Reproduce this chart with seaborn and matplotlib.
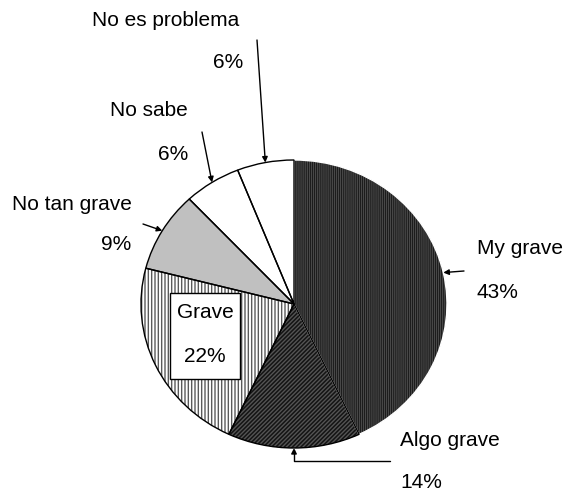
import numpy as np
import matplotlib
matplotlib.use('Agg')
import matplotlib.pyplot as plt
import matplotlib.patches as mpatches
import seaborn as sns

# datos de la encuesta
labels = ['My grave', 'Algo grave', 'Grave', 'No tan grave', 'No sabe', 'No es problema']
values = [43, 14, 22, 9, 6, 6]

# estilo de cada sector
face_colors = ['#0a0a0a', '#141414', '#ffffff', '#c0c0c0', '#ffffff', '#ffffff']
hatch_colors = ['#484848', '#545454', '#5a5a5a', '#c0c0c0', '#ffffff', '#ffffff']
hatches = ['||||||||', '////////', '|||||', '', '', '']

# posiciones de los textos (pixeles de imagen, y desde arriba)
name_pos = [(520, 248), (450, 441), (205, 313), (72, 205), (149, 111), (166, 20)]
pct_pos = [(497, 293), (421, 482), (205, 357), (116, 245), (173, 155), (228, 62)]
arrow_from = [(464, 271), (390, 461), None, (143, 224), (202, 132), (257, 40)]
box = (170, 293, 240, 379)  # recuadro de "Grave"

W, H = 566, 495
cx, cy, rx, ry = 294, 304, 153, 144

sns.set_theme(style='white')
plt.rcParams['font.family'] = ['Liberation Sans', 'DejaVu Sans']
plt.rcParams['text.color'] = 'black'

fig = plt.figure(figsize=(W / 100, H / 100), dpi=100)
ax = fig.add_axes([(cx - rx) / W, (H - cy - ry) / H, 2 * rx / W, 2 * ry / H])

wedges, _ = ax.pie(values, startangle=90, counterclock=False,
                   colors=face_colors, radius=1)
for w, hc, h in zip(wedges, hatch_colors, hatches):
    w.set_hatch(h)
    w.set_edgecolor(hc)
    w.set_linewidth(0)

# contornos
outline, _ = ax.pie(values, startangle=90, counterclock=False, radius=1,
                    wedgeprops=dict(facecolor='none', edgecolor='black', linewidth=1))
outline[0].set_edgecolor('white')
ax.set_aspect('auto')
ax.set_xlim(-1, 1)
ax.set_ylim(-1, 1)
ax.axis('off')

def fy(y):
    return H - y

# recuadro blanco de la etiqueta interior
fig.add_artist(mpatches.Rectangle((box[0], fy(box[3])), box[2] - box[0], box[3] - box[1],
                                  transform=None, facecolor='white', edgecolor='black',
                                  linewidth=1, zorder=5))

total = sum(values)
fs = 15
start = 90.0
for i, (lab, v) in enumerate(zip(labels, values)):
    sweep = 360.0 * v / total
    mid = np.deg2rad(start - sweep / 2)
    start -= sweep
    tip = (np.cos(mid), np.sin(mid))
    fig.text(name_pos[i][0], fy(name_pos[i][1]), lab, transform=None,
             ha='center', va='center', fontsize=fs, zorder=6)
    fig.text(pct_pos[i][0], fy(pct_pos[i][1]), f'{v}%', transform=None,
             ha='center', va='center', fontsize=fs, zorder=6)
    if arrow_from[i] is None:
        continue
    conn = 'angle,angleA=0,angleB=90,rad=0' if lab == 'Algo grave' else 'arc3'
    ax.annotate('', xy=tip, xycoords='data',
                xytext=(arrow_from[i][0], fy(arrow_from[i][1])), textcoords='figure pixels',
                arrowprops=dict(arrowstyle='-|>', color='black', lw=1,
                                mutation_scale=8, shrinkA=0, shrinkB=0,
                                connectionstyle=conn))

fig.savefig('out.png', dpi=100)
